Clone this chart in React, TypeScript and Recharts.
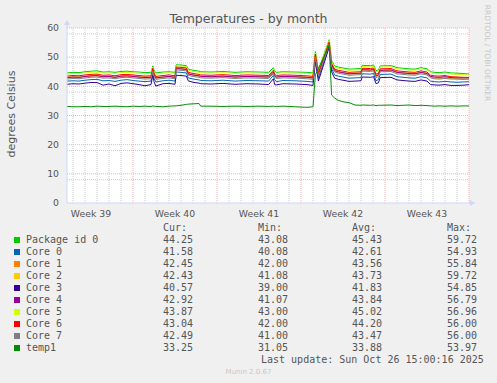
import { CartesianGrid, Line, LineChart, XAxis, YAxis } from "recharts"

// time in days from the left edge of the graph
const days = [
  0, 0.5, 1, 1.5, 2, 2.5, 3, 3.5, 4, 4.5, 5, 5.5, 6, 6.5, 7,
  7.15, 7.25, 7.4, 8, 8.5, 9, 9.1, 9.5, 9.95, 10.1, 10.5, 11, 11.15,
  12, 13, 14, 15, 16, 16.8, 17.2, 17.3, 17.45, 18, 19, 20, 20.5,
  20.7, 20.95, 21.85, 22.05, 22.3, 22.6, 23, 23.5, 24, 24.5,
  24.6, 25.3, 25.55, 25.75, 25.95, 26.1, 27, 27.5, 28, 28.5, 29, 29.5,
  30, 30.3, 30.6, 31, 31.5, 32, 32.5, 33, 33.5,
]

const packageId0 = [
  44.6, 44.8, 44.7, 45.0, 45.2, 45.3, 44.9, 45.0, 44.8, 45.1, 45.2, 45.0, 44.9, 44.7, 44.8,
  47.0, 45.6, 44.6, 44.9, 45.0, 44.8, 47.4, 47.3, 47.1, 45.9, 45.5, 45.2, 45.0,
  44.9, 45.1, 44.8, 45.0, 44.9, 44.8, 46.4, 45.3, 44.8, 45.0, 44.9, 44.8, 44.6,
  51.9, 45.6, 56.0, 48.8, 47.0, 46.6, 46.3, 45.9, 46.0, 46.1,
  47.2, 47.1, 47.3, 45.4, 45.6, 47.0, 47.1, 46.4, 46.2, 46.0, 45.9, 46.4,
  46.0, 45.0, 44.8, 44.7, 44.9, 44.6, 44.5, 44.4, 44.25,
]
const core0 = [
  41.8, 41.9, 41.8, 42.1, 42.3, 42.4, 41.9, 42.0, 41.7, 42.1, 42.3, 42.0, 41.8, 41.6, 41.8,
  44.6, 42.8, 41.5, 41.9, 42.1, 41.8, 44.9, 44.8, 44.6, 42.9, 42.5, 42.2, 42.0,
  41.9, 42.1, 41.8, 42.0, 41.9, 41.8, 43.8, 42.3, 41.6, 42.0, 41.9, 41.7, 41.5,
  49.4, 42.8, 54.0, 46.0, 43.9, 43.5, 43.2, 42.8, 42.9, 43.0,
  44.3, 44.2, 44.4, 41.9, 42.3, 44.1, 44.2, 43.3, 43.1, 42.9, 42.8, 43.3,
  42.9, 41.8, 41.6, 41.5, 41.7, 41.5, 41.4, 41.5, 41.58,
]
const core1 = [
  42.9, 43.1, 43.0, 43.3, 43.5, 43.6, 43.2, 43.3, 43.0, 43.4, 43.5, 43.3, 43.1, 42.9, 43.0,
  45.5, 43.9, 42.8, 43.1, 43.3, 43.0, 46.0, 45.9, 45.7, 44.2, 43.8, 43.5, 43.3,
  43.2, 43.4, 43.1, 43.3, 43.2, 43.1, 44.8, 43.6, 43.1, 43.3, 43.2, 43.0, 42.8,
  50.3, 44.0, 54.6, 47.2, 45.3, 44.9, 44.6, 44.2, 44.3, 44.4,
  45.6, 45.5, 45.7, 43.5, 43.8, 45.4, 45.5, 44.7, 44.5, 44.3, 44.2, 44.7,
  44.3, 43.2, 42.9, 42.8, 43.0, 42.7, 42.6, 42.5, 42.45,
]
const core2 = [
  43.1, 43.3, 43.2, 43.5, 43.7, 43.8, 43.4, 43.5, 43.2, 43.6, 43.7, 43.5, 43.3, 43.1, 43.2,
  45.8, 44.2, 43.0, 43.3, 43.5, 43.2, 46.2, 46.1, 45.9, 44.4, 44.0, 43.7, 43.5,
  43.4, 43.6, 43.3, 43.5, 43.4, 43.3, 45.1, 43.8, 43.3, 43.5, 43.4, 43.2, 43.0,
  50.6, 44.2, 54.9, 47.4, 45.5, 45.1, 44.8, 44.4, 44.5, 44.6,
  45.8, 45.7, 45.9, 43.8, 44.0, 45.6, 45.7, 44.9, 44.7, 44.5, 44.4, 44.9,
  44.5, 43.3, 43.0, 42.9, 43.1, 42.7, 42.6, 42.5, 42.43,
]
const core3 = [
  40.7, 40.9, 40.8, 41.1, 41.3, 41.3, 40.4, 40.8, 40.2, 41.0, 41.2, 40.9, 40.6, 40.2, 40.6,
  43.8, 41.6, 40.1, 40.9, 41.0, 40.7, 43.8, 43.7, 43.5, 41.9, 41.4, 41.1, 40.9,
  40.8, 41.0, 40.7, 40.9, 40.8, 40.6, 42.6, 40.6, 40.5, 40.9, 40.8, 40.6, 40.3,
  48.5, 41.8, 53.4, 45.0, 42.8, 42.4, 42.1, 41.7, 41.8, 41.9,
  43.2, 43.1, 43.3, 40.9, 41.2, 43.0, 43.1, 42.2, 42.0, 41.8, 41.7, 42.2,
  41.8, 40.6, 40.5, 40.4, 40.6, 40.3, 40.3, 40.4, 40.57,
]
const core4 = [
  43.0, 43.2, 43.1, 43.4, 43.6, 43.7, 43.3, 43.4, 43.1, 43.5, 43.6, 43.4, 43.2, 43.0, 43.1,
  45.6, 44.0, 42.9, 43.2, 43.4, 43.1, 46.1, 46.0, 45.8, 44.3, 43.9, 43.6, 43.4,
  43.3, 43.5, 43.2, 43.4, 43.3, 43.2, 44.9, 43.7, 43.2, 43.4, 43.3, 43.1, 42.9,
  50.5, 44.1, 54.8, 47.3, 45.4, 45.0, 44.7, 44.3, 44.4, 44.5,
  45.7, 45.6, 45.8, 43.6, 43.9, 45.5, 45.6, 44.8, 44.6, 44.4, 44.3, 44.8,
  44.4, 43.4, 43.2, 43.1, 43.3, 43.0, 42.9, 42.9, 42.92,
]
const core5 = [
  44.2, 44.4, 44.3, 44.6, 44.8, 44.9, 44.5, 44.6, 44.4, 44.7, 44.8, 44.6, 44.5, 44.3, 44.4,
  46.6, 45.2, 44.2, 44.5, 44.6, 44.4, 47.0, 46.9, 46.8, 45.5, 45.1, 44.8, 44.6,
  44.5, 44.7, 44.4, 44.6, 44.5, 44.4, 46.0, 44.9, 44.4, 44.6, 44.5, 44.4, 44.2,
  51.4, 45.2, 55.7, 48.4, 46.6, 46.2, 45.9, 45.5, 45.6, 45.7,
  46.8, 46.7, 46.9, 45.0, 45.2, 46.6, 46.7, 46.0, 45.8, 45.6, 45.5, 46.0,
  45.6, 44.6, 44.4, 44.3, 44.5, 44.2, 44.1, 44.0, 43.87,
]
const core6 = [
  43.5, 43.7, 43.6, 43.9, 44.1, 44.2, 43.8, 43.9, 43.6, 44.0, 44.1, 43.9, 43.7, 43.5, 43.6,
  46.2, 44.6, 43.4, 43.7, 43.9, 43.6, 46.6, 46.5, 46.3, 44.8, 44.4, 44.1, 43.9,
  43.8, 44.0, 43.7, 43.9, 43.8, 43.7, 45.5, 44.2, 43.7, 43.9, 43.8, 43.6, 43.4,
  51.0, 44.6, 55.2, 47.8, 45.9, 45.5, 45.2, 44.8, 44.9, 45.0,
  46.2, 46.1, 46.3, 44.2, 44.4, 46.0, 46.1, 45.3, 45.1, 44.9, 44.8, 45.3,
  44.9, 43.8, 43.6, 43.5, 43.7, 43.3, 43.2, 43.1, 43.04,
]
const core7 = [
  42.5, 42.7, 42.6, 42.9, 43.1, 43.2, 42.8, 42.9, 42.6, 43.0, 43.1, 42.9, 42.7, 42.5, 42.6,
  45.2, 43.5, 42.4, 42.7, 42.9, 42.6, 45.6, 45.5, 45.3, 43.8, 43.4, 43.1, 42.9,
  42.8, 43.0, 42.7, 42.9, 42.8, 42.7, 44.4, 43.2, 42.7, 42.9, 42.8, 42.6, 42.4,
  50.0, 43.6, 54.4, 46.8, 44.9, 44.5, 44.2, 43.8, 43.9, 44.0,
  45.2, 45.1, 45.3, 43.0, 43.3, 45.0, 45.1, 44.3, 44.1, 43.9, 43.8, 44.3,
  43.9, 42.9, 42.6, 42.5, 42.7, 42.5, 42.5, 42.4, 42.49,
]
const temp1 = [
  33.1, 33.0, 33.0, 33.1, 33.0, 33.2, 33.1, 33.1, 33.2, 33.1, 33.0, 33.2, 33.1, 33.2, 33.1,
  33.3, 33.2, 33.1, 33.0, 33.2, 33.3, 33.3, 33.5, 33.8, 33.9, 34.0, 34.1, 33.2,
  33.2, 33.1, 33.2, 33.1, 33.2, 33.1, 33.2, 33.1, 33.1, 33.2, 33.0, 32.8, 33.0,
  44.0, 46.0, 54.0, 37.0, 36.0, 35.2, 34.7, 34.4, 33.6, 33.5,
  33.6, 33.5, 33.6, 33.4, 33.5, 33.5, 33.6, 33.4, 33.5, 33.6, 33.4, 33.5,
  33.4, 33.3, 33.2, 33.3, 33.2, 33.3, 33.2, 33.3, 33.25,
]

const seriesKeys = ["pkg", "core0", "core1", "core2", "core3", "core4", "core5", "core6", "core7", "temp1"]
const seriesNames = ["Package id 0", "Core 0", "Core 1", "Core 2", "Core 3", "Core 4", "Core 5", "Core 6", "Core 7", "temp1"]
const seriesColors = ["#00CC00", "#0066B3", "#FF8000", "#FFCC00", "#330099", "#990099", "#CCFF00", "#FF0000", "#808080", "#008F00"]
const seriesValues = [packageId0, core0, core1, core2, core3, core4, core5, core6, core7, temp1]

const curValues = ["44.25", "41.58", "42.45", "42.43", "40.57", "42.92", "43.87", "43.04", "42.49", "33.25"]
const minValues = ["43.08", "40.08", "42.00", "41.08", "39.00", "41.07", "43.00", "42.00", "41.00", "31.05"]
const avgValues = ["45.43", "42.61", "43.56", "43.73", "41.83", "43.84", "45.02", "44.20", "43.47", "33.88"]
const maxValues = ["59.72", "54.93", "55.84", "59.72", "54.85", "56.79", "56.96", "56.00", "56.00", "53.97"]

const weekTicks = [2, 9, 16, 23, 30]
const weekLabels = ["Week 39", "Week 40", "Week 41", "Week 42", "Week 43"]
const yTicks = [0, 10, 20, 30, 40, 50, 60]

const minorY = Array.from({ length: 30 }, (_, i) => i * 2).filter((v) => v % 10 !== 0)
const majorY = [10, 20, 30, 40, 50, 60]
const majorX = [5.5, 12.5, 19.5, 26.5, 33.5]
const minorX = Array.from({ length: 33 }, (_, i) => i + 0.5).filter((v) => !majorX.includes(v))

const data = days.map((day, i) => {
  const row: Record<string, number> = { day }
  seriesKeys.forEach((k, s) => {
    row[k] = seriesValues[s][i]
  })
  return row
})

const textColor = "#555555"
const mono = "'DejaVu Sans Mono', monospace"
const colX = [163, 258, 352, 447]

export default function App() {
  return (
    <div
      style={{
        position: "absolute",
        left: 0,
        top: 0,
        width: 497,
        height: 383,
        background: "#F0F0F0",
        fontFamily: "'DejaVu Sans', sans-serif",
        color: textColor,
        overflow: "hidden",
      }}
    >
      <LineChart width={497} height={383} data={data} margin={{ top: 28, right: 28, left: 0, bottom: 160 }}>
        <CartesianGrid
          fill="#FFFFFF"
          stroke="#CCCCCC"
          strokeDasharray="1 1"
          horizontalValues={minorY}
          verticalValues={minorX}
        />
        <CartesianGrid
          stroke="#EDB4B4"
          strokeDasharray="1 1"
          horizontalValues={majorY}
          verticalValues={majorX}
        />
        <XAxis
          type="number"
          dataKey="day"
          domain={[0, 33.5]}
          ticks={weekTicks}
          tickFormatter={(v: number) => weekLabels[weekTicks.indexOf(v)]}
          tickLine={false}
          axisLine={{ stroke: "#CFD6F8" }}
          tick={{ fill: textColor, fontSize: 9.3 }}
          tickMargin={1}
          height={20}
          allowDataOverflow
        />
        <YAxis
          type="number"
          domain={[0, 60]}
          ticks={yTicks}
          tickLine={false}
          axisLine={{ stroke: "#CFD6F8" }}
          tick={{ fill: textColor, fontSize: 9.3 }}
          width={67}
          allowDataOverflow
        />
        {seriesKeys.map((k, s) => (
          <Line
            key={k}
            type="linear"
            dataKey={k}
            name={seriesNames[s]}
            stroke={seriesColors[s]}
            strokeWidth={1}
            dot={false}
            isAnimationActive={false}
          />
        ))}
      </LineChart>

      {/* axis arrows */}
      <svg style={{ position: "absolute", left: 0, top: 0 }} width={497} height={383}>
        <line x1={67} y1={28} x2={67} y2={24} stroke="#CFD6F8" />
        <polygon points="64,25 70,25 67,20" fill="#CFD6F8" />
        <line x1={469} y1={203} x2={471} y2={203} stroke="#CFD6F8" />
        <polygon points="470,200 470,206 475,203" fill="#CFD6F8" />
      </svg>

      <div
        style={{
          position: "absolute",
          left: 0,
          width: 497,
          top: 11,
          textAlign: "center",
          fontSize: 12.5,
          lineHeight: "16px",
        }}
      >
        Temperatures - by month
      </div>

      <div
        style={{
          position: "absolute",
          left: 11,
          top: 114,
          transform: "translate(-50%, -50%) rotate(-90deg)",
          fontSize: 11,
          whiteSpace: "nowrap",
        }}
      >
        degrees Celsius
      </div>

      <div
        style={{
          position: "absolute",
          left: 487,
          top: 53,
          transform: "translate(-50%, -50%) rotate(90deg)",
          fontSize: 7.5,
          whiteSpace: "nowrap",
          color: "#C8C8C8",
        }}
      >
        RRDTOOL / TOBI OETIKER
      </div>

      {/* legend */}
      <div style={{ position: "absolute", left: 0, top: 0, fontFamily: mono, fontSize: 10 }}>
        {["Cur:", "Min:", "Avg:", "Max:"].map((h, c) => (
          <div key={h} style={{ position: "absolute", left: colX[c], top: 222, lineHeight: "12px", whiteSpace: "pre" }}>
            {h}
          </div>
        ))}
        {seriesNames.map((name, s) => (
          <div key={name}>
            <div
              style={{
                position: "absolute",
                left: 14,
                top: 237 + s * 12,
                width: 6,
                height: 6,
                background: seriesColors[s],
              }}
            />
            <div style={{ position: "absolute", left: 26, top: 234 + s * 12, lineHeight: "12px", whiteSpace: "pre" }}>
              {name}
            </div>
            {[curValues, minValues, avgValues, maxValues].map((col, c) => (
              <div
                key={c}
                style={{ position: "absolute", left: colX[c], top: 234 + s * 12, lineHeight: "12px", whiteSpace: "pre" }}
              >
                {col[s]}
              </div>
            ))}
          </div>
        ))}
        <div style={{ position: "absolute", left: 261, top: 354, lineHeight: "12px", whiteSpace: "pre" }}>
          Last update: Sun Oct 26 15:00:16 2025
        </div>
      </div>

      <div
        style={{
          position: "absolute",
          left: 0,
          width: 497,
          top: 367,
          textAlign: "center",
          fontSize: 7,
          lineHeight: "10px",
          color: "#C8C8C8",
        }}
      >
        Munin 2.0.67
      </div>
    </div>
  )
}
